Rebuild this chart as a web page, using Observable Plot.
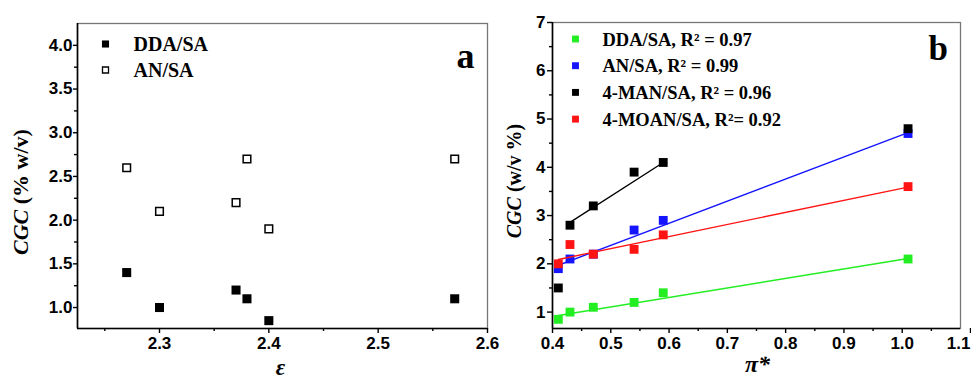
<!DOCTYPE html>
<html><head><meta charset="utf-8">
<script src="https://cdn.jsdelivr.net/npm/d3@7"></script>
<script src="https://cdn.jsdelivr.net/npm/@observablehq/plot@0.6"></script>
<style>
html,body{margin:0;padding:0;background:#fff;}
#fig{position:relative;width:971px;height:380px;overflow:hidden;background:#fff;}
#fig svg{position:absolute;top:0;overflow:visible;}
</style></head><body><div id="fig"></div>
<script>
// ---------- Panel a data ----------
const epsilon = [2.27, 2.30, 2.37, 2.38, 2.40, 2.57];
const cgcDdaA = [1.4, 1.0, 1.2, 1.1, 0.85, 1.1];
const cgcAnA = [2.6, 2.1, 2.2, 2.7, 1.9, 2.7];
const seriesA = ["DDA/SA", "AN/SA"];
const xTicksA = [2.3, 2.4, 2.5, 2.6];
const xMinorA = [2.25, 2.35, 2.45, 2.55];
const yTicksA = [1.0, 1.5, 2.0, 2.5, 3.0, 3.5, 4.0];
const yMinorA = [1.25, 1.75, 2.25, 2.75, 3.25, 3.75];

// ---------- Panel b data ----------
const piStar = [0.41, 0.43, 0.47, 0.54, 0.59, 1.01];
const seriesB = ["DDA/SA", "AN/SA", "4-MAN/SA", "4-MOAN/SA"];
const cgcDdaB = [0.85, 1.0, 1.1, 1.2, 1.4, 2.1];
const cgcAnB = [1.9, 2.1, 2.2, 2.7, 2.9, 4.7];
const cgcManB = [1.5, 2.8, 3.2, 3.9, 4.1, 4.8];
const cgcMoanB = [2.0, 2.4, 2.2, 2.3, 2.6, 3.6];
const r2B = ["0.97", "0.99", "0.96", "0.92"];
const r2SepB = [" = ", " = ", " = ", "= "];
// fitted lines: x range and y at ends
const fitXB = [[0.41, 1.01], [0.41, 1.01], [0.43, 0.59], [0.41, 1.01]];
const fitYB = [[0.93, 2.11], [1.97, 4.72], [2.86, 4.10], [2.09, 3.59]];
const colorsB = ["#22ee22", "#1414ff", "#000000", "#ff1414"];
const xTicksB = [0.4, 0.5, 0.6, 0.7, 0.8, 0.9, 1.0];
const xLastB = [1.1];
const xMinorB = [0.45, 0.55, 0.65, 0.75, 0.85, 0.95, 1.05];
const yTicksB = [1, 2, 3, 4, 5, 6, 7];
const yMinorB = [1.5, 2.5, 3.5, 4.5, 5.5, 6.5];

const serif = "Liberation Serif";
const baseStyle = {background: "transparent", fontFamily: "Liberation Sans", fontSize: "17px", fontWeight: "bold", overflow: "visible", color: "#000"};

function addYTitle(svg, x, y, size, rest) {
  const t = d3.select(svg).append("text")
    .attr("transform", `translate(${x},${y}) rotate(-90)`)
    .attr("text-anchor", "middle")
    .attr("font-family", serif).attr("font-weight", "bold").attr("font-size", size)
    .attr("fill", "#000");
  t.append("tspan").attr("font-style", "italic").text("CGC");
  t.append("tspan").text(rest);
}

// ---------- Panel a ----------
const rowsDdaA = epsilon.map((x, i) => ({x, y: cgcDdaA[i]}));
const rowsAnA = epsilon.map((x, i) => ({x, y: cgcAnA[i]}));
const xDomA = [2.225, 2.6], yDomA = [0.76, 4.25];

const plotA = Plot.plot({
  width: 490, height: 380,
  marginLeft: 77, marginRight: 3, marginTop: 23, marginBottom: 52,
  style: baseStyle,
  x: {domain: xDomA, label: null},
  y: {domain: yDomA, label: null},
  marks: [
    Plot.frame({stroke: "#777", strokeWidth: 1.3}),
    Plot.axisX(xTicksA, {tickSize: 5, tickPadding: 3, tickFormat: d => d.toFixed(1), strokeWidth: 1.4, label: null, letterSpacing: "1px"}),
    Plot.axisX(xMinorA, {tickSize: 3, tickFormat: () => "", strokeWidth: 1.4, label: null}),
    Plot.axisY(yTicksA, {tickSize: 4, tickPadding: 1, tickFormat: d => d.toFixed(1), strokeWidth: 1.4, label: null}),
    Plot.axisY(yMinorA, {tickSize: 3, tickFormat: () => "", strokeWidth: 1.4, label: null}),
    Plot.ruleX([xDomA[0]], {stroke: "#000", strokeWidth: 1.6}),
    Plot.ruleY([yDomA[0]], {stroke: "#000", strokeWidth: 1.6}),
    Plot.dot(rowsAnA, {x: "x", y: "y", symbol: "square", r: 4.3, fill: "#fff", stroke: "#000", strokeWidth: 1.5}),
    Plot.dot(rowsDdaA, {x: "x", y: "y", symbol: "square", r: 5.1, fill: "#000"}),
    // legend
    Plot.dot([seriesA[0]], {frameAnchor: "top-left", dx: 28, dy: 20.5, symbol: "square", r: 4.0, fill: "#000"}),
    Plot.dot([seriesA[1]], {frameAnchor: "top-left", dx: 28, dy: 46.5, symbol: "square", r: 3.4, fill: "#fff", stroke: "#000", strokeWidth: 1.3}),
    Plot.text([seriesA[0]], {frameAnchor: "top-left", dx: 56, dy: 27, text: d => d, textAnchor: "start", lineAnchor: "bottom", fontFamily: serif, fontWeight: "bold", fontSize: 20}),
    Plot.text([seriesA[1]], {frameAnchor: "top-left", dx: 56, dy: 53, text: d => d, textAnchor: "start", lineAnchor: "bottom", fontFamily: serif, fontWeight: "bold", fontSize: 20}),
    Plot.text(["a"], {frameAnchor: "top-left", dx: 379, dy: 44, text: d => d, textAnchor: "start", lineAnchor: "bottom", fontFamily: serif, fontWeight: "bold", fontSize: 36}),
    Plot.text(["ε"], {frameAnchor: "bottom", dx: -2, dy: 46, text: d => d, lineAnchor: "bottom", fontFamily: serif, fontStyle: "italic", fontWeight: "bold", fontSize: 23})
  ]
});
plotA.style.left = "0px";
addYTitle(plotA, 28, 192, 22, " (% w/v)");
document.getElementById("fig").appendChild(plotA);

// ---------- Panel b ----------
const valuesB = [cgcDdaB, cgcAnB, cgcManB, cgcMoanB];
const xDomB = [0.4, 1.1], yDomB = [0.66, 7];
const marksB = [
  Plot.frame({stroke: "#777", strokeWidth: 1.3}),
  Plot.axisX(xTicksB, {tickSize: 5, tickPadding: 3, tickFormat: d => d.toFixed(1), strokeWidth: 1.4, label: null}),
  Plot.axisX(xLastB, {tickSize: 5, tickPadding: 3, tickFormat: d => d.toFixed(1), strokeWidth: 1.4, label: null, textAnchor: "end", dx: 10}),
  Plot.axisX(xMinorB, {tickSize: 3, tickFormat: () => "", strokeWidth: 1.4, label: null}),
  Plot.axisY(yTicksB, {tickSize: 5, tickPadding: 2, tickFormat: d => String(d), strokeWidth: 1.4, label: null}),
  Plot.axisY(yMinorB, {tickSize: 3, tickFormat: () => "", strokeWidth: 1.4, label: null}),
  Plot.ruleX([xDomB[0]], {stroke: "#000", strokeWidth: 1.6}),
  Plot.ruleY([yDomB[0]], {stroke: "#000", strokeWidth: 1.6})
];
seriesB.forEach((s, i) => {
  const rows = piStar.map((x, j) => ({x, y: valuesB[i][j]}));
  const fit = fitXB[i].map((x, j) => ({x, y: fitYB[i][j]}));
  marksB.push(Plot.dot(rows, {x: "x", y: "y", symbol: "square", r: 5.0, fill: colorsB[i]}));
  marksB.push(Plot.line(fit, {x: "x", y: "y", stroke: colorsB[i], strokeWidth: 1.4}));
  marksB.push(Plot.dot([s], {frameAnchor: "top-left", dx: 23, dy: 16.5 + i * 26.7, symbol: "square", r: 3.9, fill: colorsB[i]}));
  marksB.push(Plot.text([s], {frameAnchor: "top-left", dx: 50, dy: 23 + i * 26.7, text: d => `${d}, R²${r2SepB[i]}${r2B[i]}`, textAnchor: "start", lineAnchor: "bottom", fontFamily: serif, fontWeight: "bold", fontSize: 18.5}));
});
marksB.push(Plot.text(["b"], {frameAnchor: "top-left", dx: 376, dy: 37, text: d => d, textAnchor: "start", lineAnchor: "bottom", fontFamily: serif, fontWeight: "bold", fontSize: 35}));
marksB.push(Plot.text(["π*"], {frameAnchor: "bottom", dx: 1, dy: 43, text: d => d, lineAnchor: "bottom", fontFamily: serif, fontStyle: "italic", fontWeight: "bold", fontSize: 24}));

const plotB = Plot.plot({
  width: 481, height: 380,
  marginLeft: 62, marginRight: 11, marginTop: 22, marginBottom: 52,
  style: baseStyle,
  x: {domain: xDomB, label: null},
  y: {domain: yDomB, label: null},
  marks: marksB
});
plotB.style.left = "490px";
addYTitle(plotB, 31, 181, 20, " (w/v %)");
document.getElementById("fig").appendChild(plotB);
</script>
</body></html>
